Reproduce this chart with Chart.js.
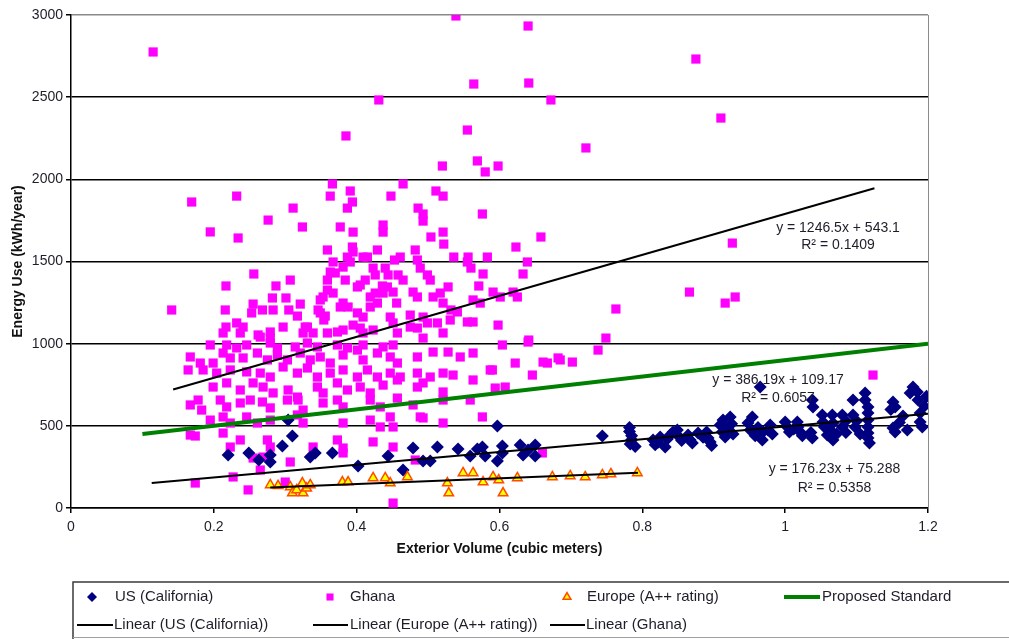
<!DOCTYPE html>
<html><head><meta charset="utf-8">
<script src="https://cdn.jsdelivr.net/npm/chart.js@4.4.0/dist/chart.umd.min.js"></script>
<style>html,body{margin:0;padding:0;background:#fff;}#wrap{width:1009px;height:639px;}</style>
</head><body><div id="wrap"><canvas id="c" width="1009" height="639"></canvas></div>
<script>
const xTicks = [0, 0.2, 0.4, 0.6, 0.8, 1, 1.2];
const xTickLabels = ['0', '0.2', '0.4', '0.6', '0.8', '1', '1.2'];
const yTicks = [0, 500, 1000, 1500, 2000, 2500, 3000];
const yTickLabels = ['0', '500', '1000', '1500', '2000', '2500', '3000'];
const xTitle = 'Exterior Volume (cubic meters)';
const yTitle = 'Energy Use (kWh/year)';
const seriesNames = ['US (California)', 'Ghana', 'Europe (A++ rating)', 'Proposed Standard',
  'Linear (US (California))', 'Linear (Europe (A++ rating))', 'Linear (Ghana)'];

const usCalifornia = [
  [0.304,535],[0.310,438],[0.220,322],[0.249,335],[0.263,292],[0.279,322],[0.279,280],[0.296,377],
  [0.335,310],[0.342,335],[0.366,335],[0.402,256],[0.444,316],[0.465,231],[0.479,365],[0.493,286],
  [0.503,286],[0.513,371],[0.542,359],[0.559,316],[0.569,359],[0.576,371],[0.580,316],[0.597,499],
  [0.597,286],[0.604,377],[0.604,335],[0.629,383],[0.633,322],[0.640,353],[0.650,383],[0.650,316],
  [0.744,438],[0.782,490],[0.782,465],[0.785,440],[0.785,415],[0.783,390],[0.790,375],
  [0.815,414],[0.818,385],[0.822,400],[0.825,432],[0.832,371],[0.835,420],[0.839,444],[0.843,462],
  [0.849,475],[0.850,440],[0.855,410],[0.864,444],[0.867,414],[0.870,395],[0.878,456],[0.885,430],
  [0.890,462],[0.892,426],[0.895,402],[0.897,380],[0.909,505],[0.912,462],[0.913,535],[0.916,432],
  [0.918,480],[0.923,554],[0.925,512],[0.927,450],[0.948,517],[0.951,475],[0.954,554],[0.958,440],
  [0.962,490],[0.965,736],[0.968,414],[0.969,462],[0.976,475],[0.979,505],[0.982,450],[1.000,523],
  [1.003,493],[1.006,462],[1.012,480],[1.017,523],[1.018,493],[1.021,462],[1.024,440],[1.038,657],
  [1.039,615],[1.038,426],[1.036,460],[1.052,566],[1.053,523],[1.055,493],[1.059,444],[1.062,480],
  [1.066,566],[1.067,517],[1.067,414],[1.072,450],[1.080,566],[1.080,493],[1.085,530],[1.085,460],
  [1.095,657],[1.095,566],[1.098,493],[1.100,530],[1.105,450],[1.112,700],[1.112,657],[1.116,615],
  [1.116,578],[1.116,535],[1.116,493],[1.116,456],[1.116,426],[1.118,395],[1.148,600],[1.151,645],
  [1.154,615],[1.151,487],[1.154,462],[1.160,520],[1.171,475],[1.175,700],[1.179,736],[1.185,706],
  [1.186,657],[1.189,578],[1.189,523],[1.192,493],[1.195,620],[1.198,680],[1.165,560]
];

const ghana = [
  [0.115,2775],[0.431,2483],[0.385,2264],[0.539,2994],[0.640,2933],[0.641,2586],[0.564,2580],[0.672,2483],
  [0.875,2732],[0.910,2373],[0.721,2191],[0.555,2300],[0.169,1862],[0.195,1680],[0.232,1898],[0.234,1643],
  [0.311,1825],[0.276,1752],[0.324,1710],[0.359,1570],[0.520,2081],[0.569,2112],[0.580,2045],[0.598,2081],
  [0.366,1972],[0.465,1972],[0.363,1898],[0.391,1929],[0.448,1898],[0.511,1929],[0.521,1898],[0.394,1862],
  [0.387,1825],[0.486,1825],[0.493,1789],[0.493,1746],[0.576,1789],[0.377,1710],[0.437,1722],[0.437,1679],
  [0.395,1679],[0.521,1679],[0.504,1649],[0.522,1606],[0.658,1649],[0.623,1588],[0.394,1588],[0.429,1570],
  [0.482,1570],[0.395,1558],
  [0.926,1612],[0.866,1314],[0.930,1284],[0.916,1247],[1.123,809],[0.763,1211],[0.749,1034],[0.738,961],
  [0.702,888],[0.661,888],[0.685,901],[0.660,335],
  [0.256,1424],[0.217,1351],[0.307,1387],[0.287,1351],[0.141,1205],[0.216,1205],[0.255,1241],[0.282,1278],
  [0.301,1278],[0.321,1241],[0.283,1205],[0.305,1205],[0.253,1187],[0.268,1205],[0.346,1205],[0.317,1168],
  [0.356,1168],[0.217,1101],[0.232,1126],[0.241,1101],[0.297,1101],[0.328,1101],[0.265,1040],[0.279,1034],
  [0.354,1144],
  [0.536,1527],[0.556,1527],[0.583,1527],[0.639,1497],[0.633,1424],[0.577,1424],[0.560,1460],[0.555,1497],
  [0.571,1351],[0.591,1314],[0.601,1284],[0.619,1314],[0.625,1284],[0.573,1247],[0.563,1266],[0.598,1113],
  [0.563,1132],[0.555,1132],[0.641,1022],[0.528,1345],[0.517,1308],[0.521,1247],[0.532,1205],[0.541,1193],
  [0.531,1144],[0.513,1126],[0.499,1126],[0.475,1174],[0.458,1418],[0.453,1509],[0.461,1527],[0.409,1527],
  [0.415,1527],[0.387,1527],[0.367,1497],[0.363,1436],[0.370,1430],[0.381,1466],[0.391,1497],[0.423,1460],
  [0.426,1418],[0.440,1460],[0.444,1418],[0.465,1387],[0.485,1509],[0.489,1460],[0.499,1418],[0.503,1387],
  [0.359,1387],[0.384,1387],[0.405,1357],[0.412,1387],[0.401,1345],[0.436,1351],[0.443,1345],[0.359,1326],
  [0.353,1284],[0.349,1266],[0.367,1308],[0.381,1247],[0.388,1223],[0.419,1284],[0.426,1308],[0.437,1308],
  [0.451,1314],[0.479,1314],[0.485,1284],[0.507,1284],[0.419,1223],[0.429,1247],[0.456,1247],[0.401,1187],
  [0.409,1162],[0.395,1113],[0.405,1095],[0.447,1162],[0.451,1126],[0.475,1101],[0.485,1095],[0.493,1162],
  [0.377,1223],[0.349,1187],[0.331,1101],[0.359,1065],[0.381,1083],
  [0.213,1065],[0.237,1065],[0.262,1053],[0.279,1071],[0.325,1065],[0.339,1065],[0.373,1071],[0.409,1065],
  [0.423,1083],[0.457,1065],[0.493,1034],[0.521,1065],
  [0.195,992],[0.218,992],[0.232,974],[0.246,992],[0.279,1004],[0.289,974],[0.314,980],[0.331,1004],
  [0.345,980],[0.373,992],[0.387,974],[0.409,992],[0.437,980],[0.451,992],[0.604,992],[0.640,1010],
  [0.167,919],[0.181,882],[0.199,882],[0.213,943],[0.223,913],[0.241,913],[0.261,943],[0.275,901],
  [0.289,931],[0.303,901],[0.321,943],[0.335,901],[0.349,919],[0.363,882],[0.381,931],[0.401,961],
  [0.409,901],[0.429,943],[0.447,919],[0.457,882],[0.485,919],[0.507,949],[0.528,949],[0.545,919],
  [0.563,943],[0.587,840],[0.622,882],[0.667,882],[0.682,913],
  [0.164,840],[0.185,840],[0.204,821],[0.223,840],[0.246,828],[0.265,821],[0.279,797],[0.297,858],
  [0.317,821],[0.331,852],[0.345,797],[0.363,821],[0.381,840],[0.401,797],[0.415,840],[0.429,797],
  [0.447,821],[0.461,797],[0.485,821],[0.503,797],[0.521,821],[0.535,809],[0.563,779],[0.590,840],
  [0.646,809],
  [0.199,736],[0.218,761],[0.237,718],[0.255,761],[0.269,736],[0.283,700],[0.304,718],[0.317,675],
  [0.345,736],[0.353,700],[0.373,761],[0.387,718],[0.405,736],[0.419,700],[0.437,748],[0.457,779],
  [0.485,736],[0.493,761],[0.521,706],[0.594,730],[0.608,736],
  [0.167,627],[0.178,657],[0.183,596],[0.209,657],[0.218,615],[0.237,639],[0.251,657],[0.268,645],
  [0.279,609],[0.303,657],[0.318,657],[0.325,596],[0.353,639],[0.373,657],[0.381,615],[0.419,657],
  [0.433,615],[0.457,669],[0.479,627],[0.521,657],[0.559,657],
  [0.195,535],[0.213,554],[0.223,517],[0.246,554],[0.261,517],[0.279,535],[0.317,566],[0.325,517],
  [0.381,517],[0.419,535],[0.433,493],[0.447,554],[0.451,493],[0.493,548],[0.521,517],[0.576,554],
  [0.489,554],
  [0.167,444],[0.174,438],[0.213,456],[0.223,371],[0.237,414],[0.275,414],[0.279,371],[0.339,371],
  [0.373,414],[0.381,365],[0.423,402],[0.451,371],
  [0.255,304],[0.269,310],[0.307,280],[0.265,231],[0.174,152],[0.227,189],[0.248,110],[0.300,158],
  [0.451,30],[0.482,292],[0.381,335]
];

const europe = [
  [0.279,140],[0.290,135],[0.307,128],[0.310,91],[0.316,110],[0.324,152],[0.325,91],[0.330,120],
  [0.335,140],[0.380,158],[0.388,158],[0.423,183],[0.440,183],[0.447,152],[0.471,189],[0.527,152],
  [0.529,91],[0.549,213],[0.563,213],[0.577,158],[0.591,189],[0.599,170],[0.605,91],[0.625,183],
  [0.674,189],[0.699,195],[0.720,189],[0.744,201],[0.756,207],[0.793,213]
];

const proposedX = [0.1, 1.2];
const proposedY = [450, 1000];
const trendUSX = [0.113, 1.2];
const trendUSY = [152, 573];
const trendEuropeX = [0.279, 0.794];
const trendEuropeY = [124, 215];
const trendGhanaX = [0.143, 1.125];
const trendGhanaY = [721, 1946];

const eqTexts = ['y = 1246.5x + 543.1', 'R\u00B2 = 0.1409', 'y = 386.19x + 109.17', 'R\u00B2 = 0.6057', 'y = 176.23x + 75.288', 'R\u00B2 = 0.5358'];
const eqX = [1.074, 1.074, 0.990, 0.990, 1.069, 1.069];
const eqY = [1704, 1600, 779, 669, 237, 122];

const FONT = "'Liberation Sans', Arial, sans-serif";
const toPts = arr => arr.map(p => ({x: p[0], y: p[1]}));
const zipPts = (xs, ys) => xs.map((x, i) => ({x: x, y: ys[i]}));

const eqPlugin = {
  id: 'eq',
  afterDatasetsDraw(chart) {
    const ctx = chart.ctx, sx = chart.scales.x, sy = chart.scales.y;
    ctx.save();
    ctx.font = '14px ' + FONT;
    ctx.fillStyle = '#1e1e2a';
    ctx.textAlign = 'center';
    ctx.textBaseline = 'middle';
    eqTexts.forEach((t, i) => ctx.fillText(t, sx.getPixelForValue(eqX[i]), sy.getPixelForValue(eqY[i])));
    const a = chart.chartArea;
    ctx.strokeStyle = '#8a8a8a';
    ctx.lineWidth = 1;
    ctx.beginPath();
    ctx.moveTo(Math.round(a.right) + 0.5, a.top);
    ctx.lineTo(Math.round(a.right) + 0.5, a.bottom);
    ctx.stroke();
    ctx.restore();
  }
};

const legendPlugin = {
  id: 'legendBox',
  afterDraw(chart) {
    const ctx = chart.ctx;
    ctx.save();
    ctx.strokeStyle = '#3a3a3a';
    ctx.lineWidth = 1.5;
    ctx.beginPath();
    ctx.moveTo(73, 639); ctx.lineTo(73, 582); ctx.lineTo(1009, 582);
    ctx.stroke();
    ctx.strokeStyle = '#a0a0a0';
    ctx.lineWidth = 1;
    ctx.beginPath(); ctx.moveTo(73, 637.5); ctx.lineTo(1009, 637.5); ctx.stroke();

    const r1 = 597, r2 = 625;
    const dp = Chart.helpers.drawPoint;
    ctx.fillStyle = '#000080'; ctx.strokeStyle = '#000080';
    dp(ctx, {pointStyle: 'rectRot', radius: 5, borderWidth: 0, rotation: 0}, 92, r1);
    ctx.fillStyle = '#ff00ff'; ctx.strokeStyle = '#ff00ff';
    dp(ctx, {pointStyle: 'rect', radius: 5, borderWidth: 0, rotation: 0}, 330, r1);
    ctx.fillStyle = '#ffff00'; ctx.strokeStyle = '#ff4a00'; ctx.lineWidth = 1.5;
    dp(ctx, {pointStyle: 'triangle', radius: 4.5, borderWidth: 1.5, rotation: 0}, 567, r1);
    ctx.lineCap = 'butt';
    ctx.strokeStyle = '#008000'; ctx.lineWidth = 4;
    ctx.beginPath(); ctx.moveTo(784, r1); ctx.lineTo(820, r1); ctx.stroke();
    ctx.strokeStyle = '#000'; ctx.lineWidth = 2;
    [[77, 113], [313, 348], [550, 585]].forEach(s => {
      ctx.beginPath(); ctx.moveTo(s[0], r2); ctx.lineTo(s[1], r2); ctx.stroke();
    });
    ctx.font = '15px ' + FONT;
    ctx.fillStyle = '#1e1e2a';
    ctx.textAlign = 'left';
    ctx.textBaseline = 'middle';
    ctx.fillText(seriesNames[0], 115, r1);
    ctx.fillText(seriesNames[1], 350, r1);
    ctx.fillText(seriesNames[2], 587, r1);
    ctx.fillText(seriesNames[3], 822, r1);
    ctx.fillText(seriesNames[4], 114, r2);
    ctx.fillText(seriesNames[5], 350, r2);
    ctx.fillText(seriesNames[6], 586, r2);
    ctx.restore();
  }
};

const lineDs = (label, pts, color, width) => ({
  label: label, data: pts, showLine: true, borderColor: color, backgroundColor: color,
  borderWidth: width, pointRadius: 0, fill: false, order: 0
});

new Chart(document.getElementById('c'), {
  type: 'scatter',
  data: {
    datasets: [
      lineDs(seriesNames[4], zipPts(trendUSX, trendUSY), '#000', 2),
      lineDs(seriesNames[5], zipPts(trendEuropeX, trendEuropeY), '#000', 2),
      lineDs(seriesNames[6], zipPts(trendGhanaX, trendGhanaY), '#000', 2),
      lineDs(seriesNames[3], zipPts(proposedX, proposedY), '#008000', 4),
      {label: seriesNames[2], data: toPts(europe), pointStyle: 'triangle', pointRadius: 5.5,
       backgroundColor: '#ffff00', borderColor: '#ff4a00', pointBorderWidth: 1.5, order: 1},
      {label: seriesNames[0], data: toPts(usCalifornia), pointStyle: 'rectRot', pointRadius: 6.5,
       backgroundColor: '#000080', borderColor: '#000080', pointBorderWidth: 0, order: 2},
      {label: seriesNames[1], data: toPts(ghana), pointStyle: 'rect', pointRadius: 6.5,
       backgroundColor: '#ff00ff', borderColor: '#ff00ff', pointBorderWidth: 0, order: 3}
    ]
  },
  options: {
    responsive: false,
    animation: false,
    events: [],
    devicePixelRatio: 1,
    layout: {padding: {left: 0, top: 15, right: 81, bottom: 81}},
    plugins: {legend: {display: false}, tooltip: {enabled: false}},
    scales: {
      x: {
        type: 'linear', min: 0, max: 1.2,
        afterBuildTicks: s => { s.ticks = xTicks.map(v => ({value: v})); },
        afterFit: s => { s.height = 50; },
        grid: {display: true, drawOnChartArea: false, drawTicks: true, tickLength: 5, color: '#000', lineWidth: 1.5},
        border: {display: true, color: '#000', width: 1.5},
        ticks: {padding: 6, color: '#1e1e2a', font: {family: FONT, size: 14}, maxRotation: 0,
          callback: (v) => xTickLabels[xTicks.indexOf(v)]},
        title: {display: true, text: xTitle, color: '#111', font: {family: FONT, size: 14, weight: 'bold'}, padding: {top: 0, bottom: 0}}
      },
      y: {
        type: 'linear', min: 0, max: 3000,
        afterBuildTicks: s => { s.ticks = yTicks.map(v => ({value: v})); },
        afterFit: s => { s.width = 71; },
        grid: {display: true, drawOnChartArea: true, drawTicks: true, tickLength: 5,
          color: c => (c.tick && c.tick.value === 3000) ? '#8a8a8a' : '#000', tickColor: '#000', lineWidth: 1.5},
        border: {display: true, color: '#000', width: 1.5},
        ticks: {padding: 3, color: '#1e1e2a', font: {family: FONT, size: 14},
          callback: (v) => yTickLabels[yTicks.indexOf(v)]},
        title: {display: true, text: yTitle, color: '#111', font: {family: FONT, size: 14, weight: 'bold'}, padding: {top: 10, bottom: 0}}
      }
    }
  },
  plugins: [eqPlugin, legendPlugin]
});
</script></body></html>
